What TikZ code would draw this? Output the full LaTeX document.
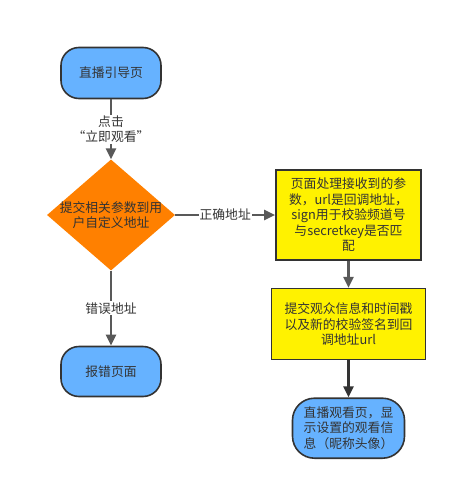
\documentclass[tikz,border=0pt]{standalone}
\usepackage{fontspec}
\setmainfont{Noto Sans CJK SC}
\usetikzlibrary{shapes.geometric, arrows.meta, positioning}
\definecolor{nodeblue}{HTML}{66B2FF}
\definecolor{decorange}{HTML}{FF8000}
\definecolor{edgegray}{HTML}{595959}
\definecolor{bordergray}{HTML}{333333}
\tikzstyle{line} = [draw=edgegray, -{Triangle[length=11pt,width=10pt]}, line width=2.4pt]

\begin{document}
\begin{tikzpicture}[x=1pt, y=-1pt, font=\fontsize{12.8}{15.5}\selectfont, text=bordergray,
  terminal/.style={rectangle, rounded corners=18pt, draw=bordergray, line width=1.6pt, fill=nodeblue, align=center, inner sep=2pt},
  process/.style={rectangle, draw=bordergray, line width=1.6pt, fill=yellow, align=center, inner sep=2pt},
  decision/.style={diamond, fill=decorange, minimum width=128pt, minimum height=111pt, inner sep=0pt},
  edgelabel/.style={fill=white, inner sep=1pt, align=center}]

    \useasboundingbox (0,0) rectangle (457,485);

    % left column
    \node[terminal, minimum width=100pt, minimum height=51pt] (guide) at (111,73) {直播引导页};
    \node[decision, below=60pt of guide,
      label={[align=center, text=bordergray]center:提交相关参数到用\\户自定义地址}] (check) {};
    \node[terminal, minimum width=100pt, minimum height=50pt, below=75pt of check] (errpage) {报错页面};

    % right column
    \node[process, minimum width=145pt, minimum height=90pt, right=100pt of check] (verify)
      {页面处理接收到的参\\数，url是回调地址，\\sign用于校验频道号\\与secretkey是否匹\\配};
    \node[process, minimum width=154pt, minimum height=71pt, below=27pt of verify] (submit)
      {提交观众信息和时间戳\\以及新的校验签名到回\\调地址url};
    \node[terminal, rounded corners=22pt, minimum width=112pt, minimum height=60pt, below=37pt of submit] (live)
      {直播观看页，显\\示设置的观看信\\息（昵称头像）};

    \path[line] (guide) -- node[edgelabel] {点击\\“立即观看”} (check);
    \path[line] (check) -- node[edgelabel] {正确地址} (verify);
    \path[line] (check) -- node[edgelabel] {错误地址} (errpage);
    \path[line] (verify) -- (submit);
    \path[line, draw=bordergray] (submit) -- (live);

\end{tikzpicture}
\end{document}
